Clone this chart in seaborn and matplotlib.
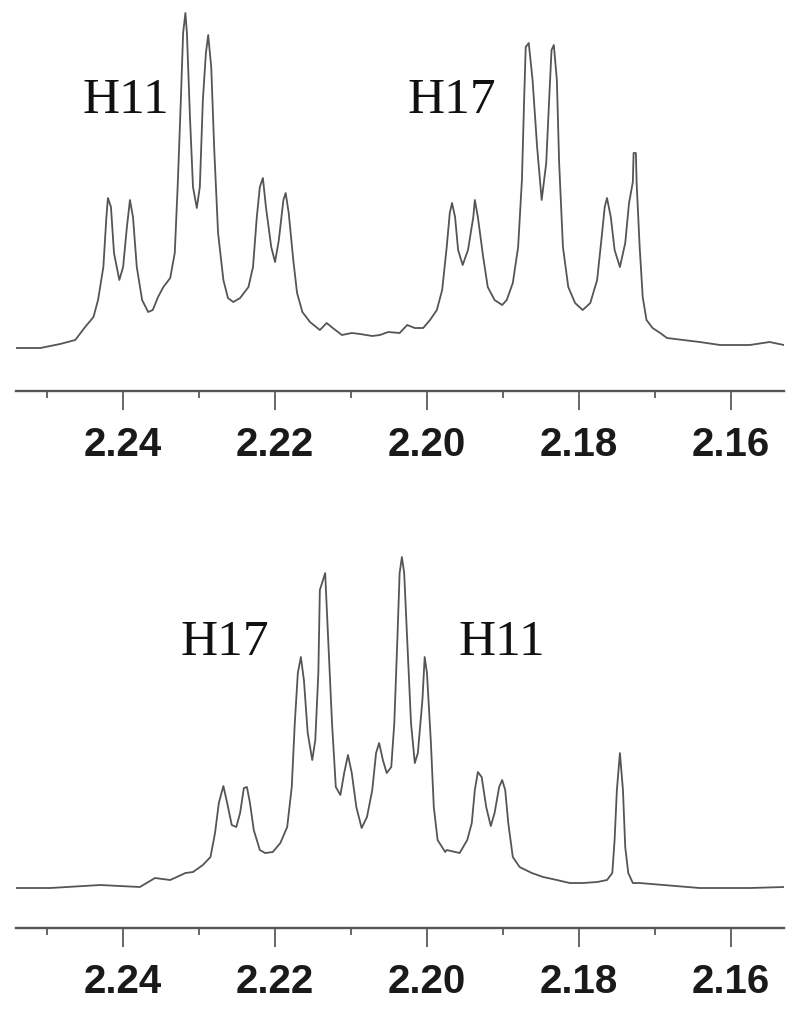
import matplotlib
matplotlib.use("Agg")
import matplotlib.pyplot as plt
import seaborn as sns
import pandas as pd
from matplotlib.ticker import FixedLocator, FormatStrFormatter

# ---- data: traced spectra (chemical shift in ppm, intensity in arbitrary units) ----
top_ppm = [2.2541, 2.2509, 2.2483, 2.2463, 2.2450, 2.2439, 2.2433, 2.2426, 2.2422, 2.2420,
           2.2416, 2.2412, 2.2405, 2.2400, 2.2395, 2.2391, 2.2387, 2.2382, 2.2375, 2.2367,
           2.2361, 2.2354, 2.2347, 2.2338, 2.2332, 2.2328, 2.2324, 2.2321, 2.2318, 2.2316,
           2.2312, 2.2308, 2.2303, 2.2299, 2.2295, 2.2291, 2.2288, 2.2284, 2.2280, 2.2275,
           2.2268, 2.2262, 2.2255, 2.2246, 2.2235, 2.2229, 2.2224, 2.2220, 2.2216, 2.2212,
           2.2205, 2.2200, 2.2195, 2.2189, 2.2186, 2.2182, 2.2176, 2.2171, 2.2164, 2.2154,
           2.2141, 2.2132, 2.2124, 2.2112, 2.2099, 2.2088, 2.2072, 2.2062, 2.2051, 2.2036,
           2.2026, 2.2016, 2.2005, 2.1996, 2.1987, 2.1980, 2.1974, 2.1970, 2.1967, 2.1963,
           2.1959, 2.1953, 2.1946, 2.1939, 2.1937, 2.1933, 2.1926, 2.1920, 2.1911, 2.1901,
           2.1895, 2.1887, 2.1880, 2.1875, 2.1872, 2.1870, 2.1866, 2.1861, 2.1855, 2.1849,
           2.1843, 2.1839, 2.1836, 2.1833, 2.1829, 2.1826, 2.1821, 2.1814, 2.1805, 2.1795,
           2.1785, 2.1776, 2.1770, 2.1766, 2.1763, 2.1758, 2.1753, 2.1746, 2.1739, 2.1734,
           2.1729, 2.1728, 2.1725, 2.1724, 2.1720, 2.1716, 2.1711, 2.1703, 2.1693, 2.1684,
           2.1641, 2.1614, 2.1575, 2.1549, 2.1530]
top_int = [0, 0, 4, 8, 21, 31, 48, 81, 131, 150,
           141, 95, 68, 81, 121, 148, 131, 81, 48, 36,
           38, 51, 61, 70, 95, 165, 248, 315, 335, 315,
           231, 161, 140, 161, 248, 295, 313, 281, 198, 115,
           68, 50, 46, 50, 61, 81, 131, 161, 170, 141,
           101, 86, 108, 148, 155, 135, 88, 55, 36, 26,
           18, 25, 20, 13, 15, 14, 12, 13, 16, 15,
           23, 20, 20, 28, 38, 58, 101, 135, 145, 131,
           98, 83, 98, 131, 148, 131, 91, 61, 48, 43,
           48, 65, 101, 168, 251, 301, 305, 268, 201, 148,
           185, 251, 298, 303, 268, 185, 101, 61, 45, 38,
           45, 68, 111, 141, 150, 131, 98, 81, 105, 145,
           166, 195, 195, 165, 101, 51, 28, 20, 15, 10,
           6, 3, 3, 6, 3]

bot_ppm = [2.2541, 2.2496, 2.2430, 2.2378, 2.2358, 2.2338, 2.2318, 2.2308, 2.2295, 2.2285,
           2.2279, 2.2274, 2.2268, 2.2263, 2.2257, 2.2251, 2.2246, 2.2241, 2.2237, 2.2233,
           2.2228, 2.2220, 2.2213, 2.2203, 2.2193, 2.2184, 2.2178, 2.2174, 2.2170, 2.2166,
           2.2162, 2.2157, 2.2151, 2.2147, 2.2143, 2.2141, 2.2134, 2.2130, 2.2125, 2.2120,
           2.2114, 2.2109, 2.2104, 2.2099, 2.2093, 2.2086, 2.2079, 2.2072, 2.2067, 2.2063,
           2.2058, 2.2053, 2.2047, 2.2043, 2.2039, 2.2036, 2.2033, 2.2030, 2.2026, 2.2021,
           2.2016, 2.2012, 2.2006, 2.2003, 2.2000, 2.1995, 2.1991, 2.1986, 2.1976, 2.1974,
           2.1957, 2.1947, 2.1941, 2.1937, 2.1933, 2.1928, 2.1922, 2.1916, 2.1911, 2.1905,
           2.1901, 2.1897, 2.1893, 2.1887, 2.1878, 2.1862, 2.1847, 2.1829, 2.1812, 2.1795,
           2.1776, 2.1763, 2.1756, 2.1753, 2.1750, 2.1746, 2.1742, 2.1739, 2.1735, 2.1729,
           2.1720, 2.1641, 2.1575, 2.1530]
bot_int = [0, 0, 3, 1, 10, 8, 15, 16, 23, 31,
           55, 85, 102, 85, 63, 61, 75, 100, 101, 85,
           58, 38, 35, 36, 45, 61, 101, 165, 215, 231,
           208, 155, 128, 148, 215, 298, 315, 248, 165, 101,
           93, 115, 133, 115, 81, 60, 71, 98, 135, 145,
           128, 115, 121, 165, 248, 315, 331, 315, 248, 165,
           125, 135, 188, 231, 215, 148, 81, 48, 36, 38,
           35, 48, 65, 98, 116, 111, 81, 62, 75, 101,
           108, 98, 65, 31, 21, 15, 11, 8, 5, 5,
           6, 8, 15, 48, 98, 135, 98, 41, 15, 5,
           5, 0, 0, 1]

tick_major = [2.24, 2.22, 2.20, 2.18, 2.16]
tick_minor = [2.25, 2.23, 2.21, 2.19, 2.17]
x_range = (2.2541, 2.1530)

top_labels = [("H11", 2.2454, 235), ("H17", 2.2026, 235)]
bot_labels = [("H17", 2.2325, 233), ("H11", 2.1959, 233)]

# ---- style ----
sns.set_theme(style="white")
plt.rcParams["font.family"] = ["Liberation Sans", "DejaVu Sans"]

fig = plt.figure(figsize=(8.0, 10.18), dpi=100)
ax_top = fig.add_axes([0.02, 0.6159, 0.96, 0.3792])
ax_bot = fig.add_axes([0.02, 0.0884, 0.96, 0.3762])

line_color = "#555555"
axis_color = "#555555"

panels = [
    (ax_top, top_ppm, top_int, top_labels, (-43, 343)),
    (ax_bot, bot_ppm, bot_int, bot_labels, (-40, 343)),
]

for ax, xs, ys, labels, ylim in panels:
    df = pd.DataFrame({"ppm": xs, "intensity": ys})
    sns.lineplot(data=df, x="ppm", y="intensity", ax=ax, color=line_color,
                 linewidth=1.3, estimator=None, sort=False)
    ax.set_xlim(*x_range)
    ax.set_ylim(*ylim)
    for s in ["top", "left", "right"]:
        ax.spines[s].set_visible(False)
    ax.spines["bottom"].set_color(axis_color)
    ax.spines["bottom"].set_linewidth(1.7)
    ax.set_yticks([])
    ax.xaxis.set_major_locator(FixedLocator(tick_major))
    ax.xaxis.set_minor_locator(FixedLocator(tick_minor))
    ax.xaxis.set_major_formatter(FormatStrFormatter("%.2f"))
    ax.tick_params(axis="x", which="major", bottom=True, direction="out", length=14,
                   width=1.4, color="#666666", pad=11, labelsize=29, labelcolor="#1a1a1a")
    ax.tick_params(axis="x", which="minor", bottom=True, direction="out", length=5,
                   width=1.4, color="#666666")
    for lbl in ax.get_xticklabels():
        lbl.set_fontweight("bold")
    ax.set_xlabel("")
    ax.set_ylabel("")
    for text, x, y in labels:
        ax.text(x, y, text, ha="left", va="baseline", fontsize=37,
                family=["Liberation Serif", "DejaVu Serif"], color="#111111")

fig.savefig("out.png", dpi=100)
